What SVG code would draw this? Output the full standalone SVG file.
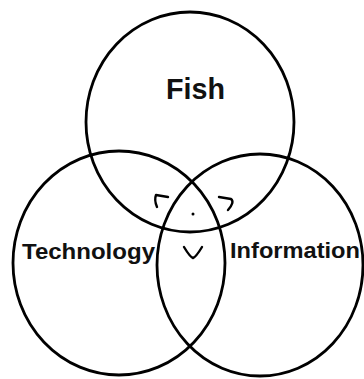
<svg xmlns="http://www.w3.org/2000/svg" width="364" height="379" viewBox="0 0 364 379">
<style>
.c{fill:none;stroke:#000;stroke-width:2.8}
.t{font-family:"Liberation Sans",Arial,sans-serif;font-weight:bold;fill:#111}
.m{fill:none;stroke:#000;stroke-width:2.4;stroke-linecap:round;stroke-linejoin:round}
</style>
<rect width="364" height="379" fill="#fff"/>
<g id="fish">
<ellipse class="c" cx="190" cy="122" rx="104" ry="110"/>
<text class="t" x="166" y="99" font-size="29" textLength="59" lengthAdjust="spacingAndGlyphs">Fish</text>
</g>
<g id="technology">
<ellipse class="c" cx="119" cy="263" rx="106" ry="112"/>
<text class="t" x="22" y="259" font-size="22" textLength="133" lengthAdjust="spacingAndGlyphs">Technology</text>
</g>
<g id="information">
<ellipse class="c" cx="260" cy="265" rx="103" ry="111"/>
<text class="t" x="230" y="258" font-size="22" textLength="130" lengthAdjust="spacingAndGlyphs">Information</text>
</g>
<g id="face">
<path class="m" d="M168,197 L156,195 Q154,200 157,207"/>
<path class="m" d="M219,197 L231,199 Q235,202 228,210"/>
<path class="m" d="M184,247 Q190,257 193,258 Q196,257 202,247"/>
<circle cx="193" cy="214" r="1.5" fill="#000"/>
</g>
</svg>
